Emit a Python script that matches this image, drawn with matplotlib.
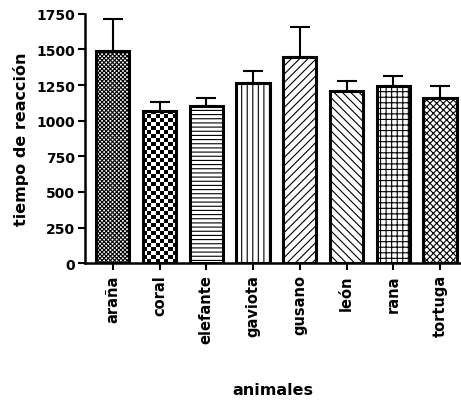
import numpy as np
import matplotlib
matplotlib.use('Agg')
import matplotlib.pyplot as plt

animales = ['araña', 'coral', 'elefante', 'gaviota', 'gusano', 'león', 'rana', 'tortuga']
tiempo = [1490, 1068, 1101, 1263, 1446, 1211, 1242, 1162]
error = [225, 66, 56, 86, 211, 70, 70, 80]
hatches = ['xxxxxxxx', None, '----', '|||', '////', '\\\\\\\\', '+++', 'xxxxx']
yticks = [0, 250, 500, 750, 1000, 1250, 1500, 1750]

plt.rcParams['font.family'] = 'DejaVu Sans'
plt.rcParams['font.weight'] = 'bold'
plt.rcParams['axes.labelweight'] = 'bold'
plt.rcParams['hatch.linewidth'] = 0.8


def main():
    fig = plt.figure(figsize=(4.61, 4.02), dpi=100)
    ax = fig.add_axes([0.184, 0.343, 0.816, 0.62])

    x = np.arange(len(animales))
    bars = ax.bar(x, tiempo, width=0.71, color='white', edgecolor='black',
                  linewidth=2.2, zorder=3)
    for bar, h in zip(bars, hatches):
        if h:
            bar.set_hatch(h)

    # coral has a checkerboard fill, no hatch for that, so clip an image to the bar
    coral = bars[1]
    coral.set_facecolor('none')
    ncols, nrows = 8, 38
    checker = (np.indices((nrows, ncols)).sum(axis=0) % 2).astype(float)
    im = ax.imshow(checker, cmap='gray', interpolation='nearest', aspect='auto',
                   extent=(coral.get_x(), coral.get_x() + coral.get_width(),
                           0, coral.get_height()), zorder=2)
    im.set_clip_path(coral)

    ax.errorbar(x, tiempo, yerr=[np.zeros(len(error)), error], fmt='none',
                ecolor='black', elinewidth=1.5, capsize=7, capthick=1.5, zorder=2.5)

    ax.set_xlim(-0.6, 7.45)
    ax.set_ylim(0, 1750)
    ax.set_yticks(yticks)
    ax.set_xticks(x)
    ax.set_xticklabels(animales, rotation=90, fontsize=10.5)
    ax.tick_params(axis='y', labelsize=10, length=5, width=1.5, pad=2)
    ax.tick_params(axis='x', length=5, width=1.5, pad=3)

    for s in ['top', 'right']:
        ax.spines[s].set_visible(False)
    for s in ['left', 'bottom']:
        ax.spines[s].set_linewidth(1.8)

    ax.set_ylabel('tiempo de reacción', fontsize=11.5, labelpad=5)
    ax.set_xlabel('animales', fontsize=11.5, labelpad=28)

    fig.savefig('out.png', dpi=100)


if __name__ == '__main__':
    main()
